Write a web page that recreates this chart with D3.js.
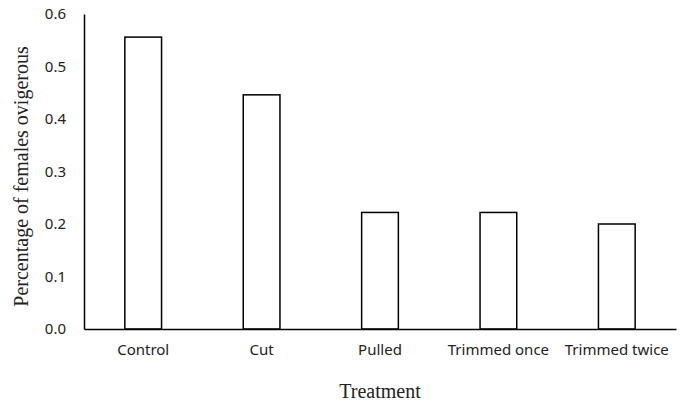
<!DOCTYPE html>
<html><head><meta charset="utf-8">
<script src="https://cdn.jsdelivr.net/npm/d3@7"></script>
<style>body{margin:0;background:#fff}</style>
</head><body>
<svg id="c" width="686" height="403"></svg>
<script>
const categories = ["Control","Cut","Pulled","Trimmed once","Trimmed twice"];
const values = [0.556, 0.446, 0.222, 0.222, 0.2];
const yTicks = [0,0.1,0.2,0.3,0.4,0.5,0.6];

const svg = d3.select("#c");
const m = {l:84, r:10, t:14, b:74};
const W = 686, H = 403;
const x = d3.scaleBand().domain(categories).range([m.l, W-m.r]).paddingInner(0.69).paddingOuter(0.345);
const y = d3.scaleLinear().domain([0,0.6]).range([H-m.b, m.t]);

svg.append("g").selectAll("rect").data(values).join("rect")
  .attr("x",(d,i)=>x(categories[i])).attr("width",x.bandwidth())
  .attr("y",d=>y(d)).attr("height",d=>y(0)-y(d))
  .attr("fill","#fff").attr("stroke","#000").attr("stroke-width",1.5);

const ya = svg.append("g").attr("transform",`translate(${m.l},0)`)
  .call(d3.axisLeft(y).tickValues(yTicks).tickFormat(d3.format(".1f")).tickSize(0).tickPadding(18));
ya.select(".domain").attr("stroke","#000").attr("stroke-width",1.5);
ya.selectAll("text").attr("font-family","Noto Sans, sans-serif").attr("font-size",15).attr("fill","#222");

const xa = svg.append("g").attr("transform",`translate(0,${y(0)})`)
  .call(d3.axisBottom(x).tickSize(0).tickPadding(15));
xa.select(".domain").attr("stroke","#000").attr("stroke-width",1.5);
xa.selectAll("text").attr("font-family","Noto Sans, sans-serif").attr("font-size",15).attr("fill","#222");

svg.append("text").attr("transform",`translate(28,${(y(0)+y(0.6))/2 + 5}) rotate(-90)`)
  .attr("text-anchor","middle").attr("font-family","Liberation Serif, Times New Roman, serif")
  .attr("font-size",20).attr("fill","#222").text("Percentage of females ovigerous");
svg.append("text").attr("x",(m.l+W-m.r)/2).attr("y",398)
  .attr("text-anchor","middle").attr("font-family","Liberation Serif, Times New Roman, serif")
  .attr("font-size",20).attr("fill","#222").text("Treatment");
</script>
</body></html>
